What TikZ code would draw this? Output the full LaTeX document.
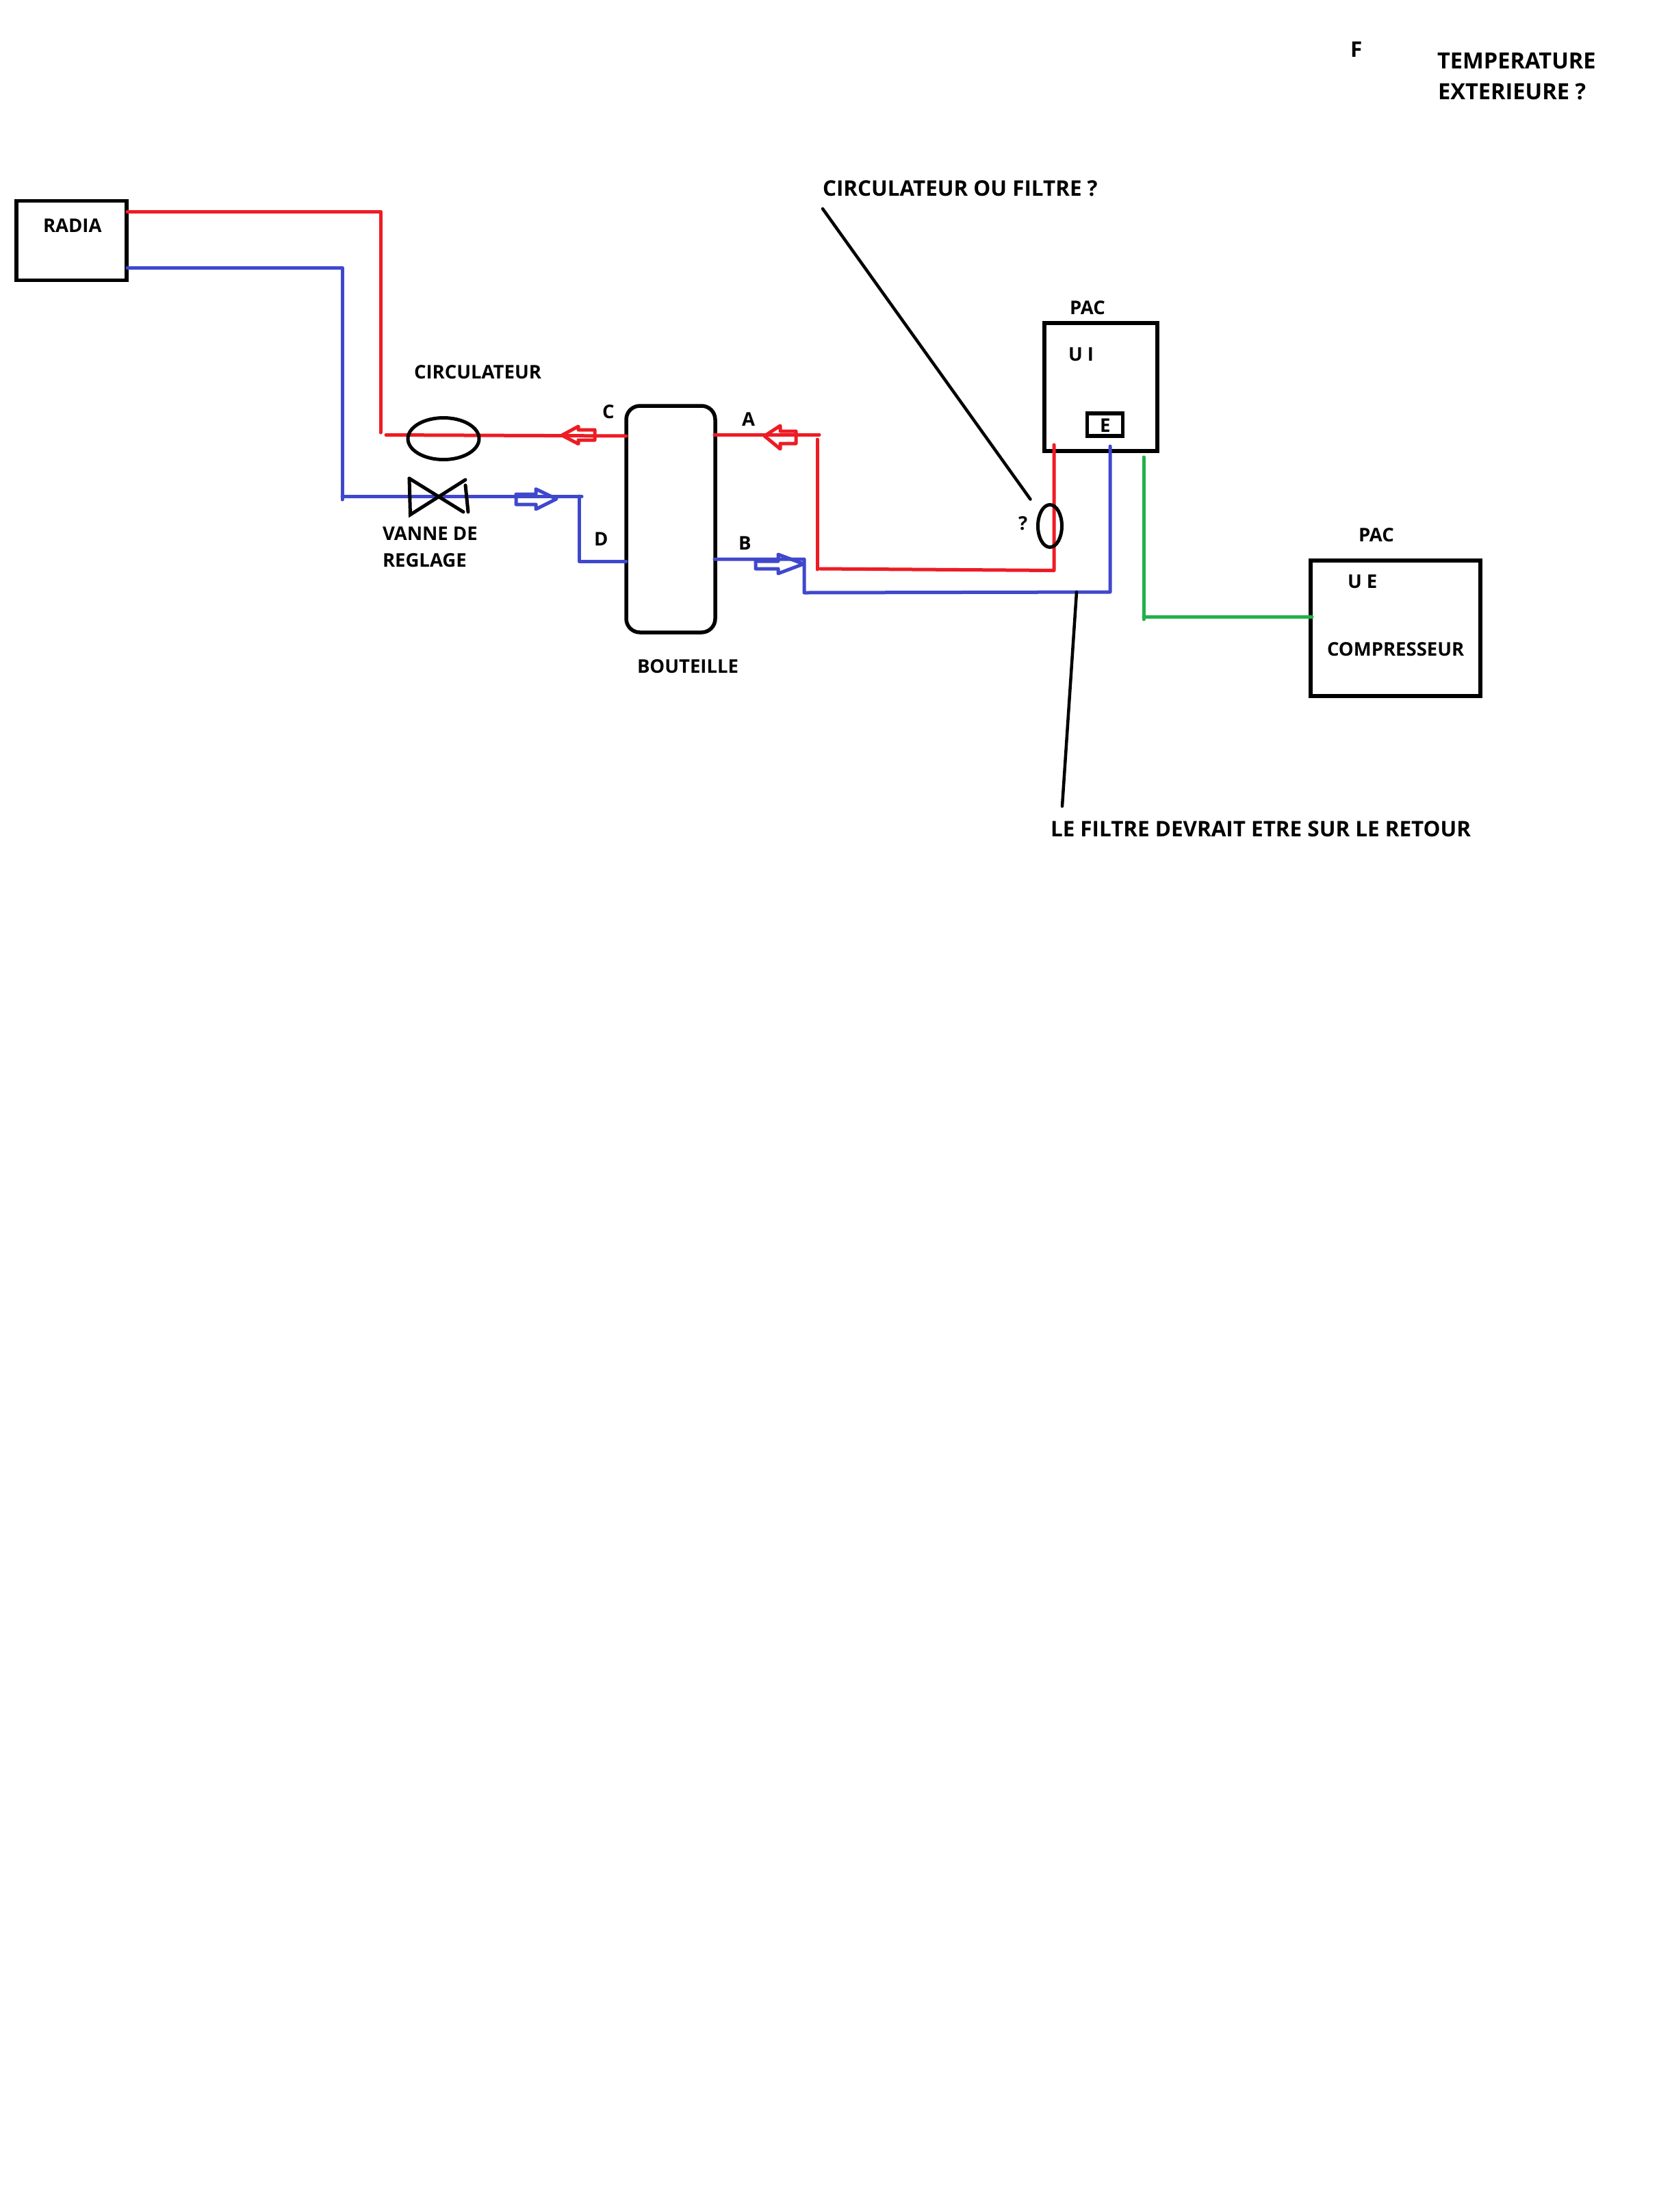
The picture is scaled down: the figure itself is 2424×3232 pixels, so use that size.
\documentclass[tikz,border=0pt]{standalone}
\usepackage{fontspec}
\setmainfont{Open Sans}
\definecolor{pipered}{HTML}{ED1C24}
\definecolor{pipeblue}{HTML}{3F48CC}
\definecolor{pipegreen}{HTML}{22B14C}
\tikzset{
  lbl/.style={anchor=base west,inner sep=0pt,outer sep=0pt,font=\fontsize{27.5}{27.5}\selectfont\bfseries,text=black},
  lblbig/.style={lbl,font=\fontsize{31.4}{31.4}\selectfont\bfseries},
  lbltop/.style={lbl,font=\fontsize{32.6}{32.6}\selectfont\bfseries},
  box/.style={draw=black,line width=5.5pt,rectangle,inner sep=0pt,outer sep=0pt},
  oval/.style={draw=black,line width=5pt,ellipse,inner sep=0pt,outer sep=0pt},
  redp/.style={draw=pipered,line width=5pt,line cap=round,line join=round},
  bluep/.style={draw=pipeblue,line width=5pt,line cap=round,line join=round},
  greenp/.style={draw=pipegreen,line width=5pt,line cap=round,line join=round},
  lead/.style={draw=black,line width=4.5pt,line cap=round},
  valve/.style={draw=black,line width=5pt,line cap=round},
}
\usetikzlibrary{shapes.geometric}
\begin{document}
\begin{tikzpicture}[x=1pt,y=-1pt]
\useasboundingbox[fill=white] (0,0) rectangle (2424,3232);
% boxes
\node[box,minimum width=161pt,minimum height=116pt] (radia) at (104.5,351.5) {};
\node[box,draw=black,rounded corners=20pt,minimum width=130pt,minimum height=331pt] (bottle) at (980,758.5) {};
\node[box,minimum width=165pt,minimum height=187pt] (ui) at (1608.5,565.5) {};
\node[box,minimum width=52pt,minimum height=33pt] (ebox) at (1614.5,620.5) {};
\node[box,minimum width=248pt,minimum height=198pt] (ue) at (2039,918) {};
% junction points
\coordinate (r1) at (186,309); \coordinate (r2) at (556,309); \coordinate (r3) at (556,632);
\coordinate (r4) at (564,635.5); \coordinate (r5) at (915,637);
\coordinate (r6) at (1044,635); \coordinate (r7) at (1197,635);
\coordinate (r8) at (1194,642); \coordinate (r9) at (1194,832);
\coordinate (r10) at (1198,831); \coordinate (r11) at (1540,833.5); \coordinate (r12) at (1540,650);
\coordinate (b1) at (186,391); \coordinate (b2) at (500,391); \coordinate (b3) at (500,730);
\coordinate (b4) at (500,725); \coordinate (b5) at (850,725); \coordinate (b6) at (846,725);
\coordinate (b7) at (846,820); \coordinate (b8) at (915,820);
\coordinate (b9) at (1044,817); \coordinate (b10) at (1175,817); \coordinate (b11) at (1175,866);
\coordinate (b12) at (1622,865); \coordinate (b13) at (1622,652);
\coordinate (g1) at (1671,668); \coordinate (g2) at (1671,905); \coordinate (g3) at (1671,901); \coordinate (g4) at (1917,901);
% pipes
\draw[redp] (r1) -- (r2) -- (r3);
\draw[redp] (r4) -- (r5);
\draw[redp] (r6) -- (r7);
\draw[redp] (r8) -- (r9);
\draw[redp] (r10) -- (r11) -- (r12);
\draw[bluep] (b1) -- (b2) -- (b3);
\draw[bluep] (b4) -- (b5);
\draw[bluep] (b6) -- (b7) -- (b8);
\draw[bluep] (b9) -- (b10) -- (b11) -- (b12) -- (b13);
\draw[greenp] (g1) -- (g2);
\draw[greenp] (g3) -- (g4);
% flow arrows
\draw[redp] (821,636) -- (845,623) -- (845,628) -- (869,628) -- (869,643) -- (845,643) -- (845,648.5) -- cycle;
\draw[redp] (1117,637) -- (1140,622) -- (1140,630) -- (1163,630) -- (1163,648) -- (1140,648) -- (1140,656) -- cycle;
\draw[bluep] (813,729) -- (783,714.5) -- (783,722) -- (754,722) -- (754,737) -- (783,737) -- (783,744) -- cycle;
\draw[bluep] (1174,824) -- (1137,810) -- (1137,820) -- (1104,820) -- (1104,831) -- (1137,831) -- (1137,838) -- cycle;
% circulator, filter, valve
\node[oval,minimum width=104pt,minimum height=61pt] (circ) at (648,641) {};
\node[oval,minimum width=35pt,minimum height=62pt] (filt) at (1534,768.5) {};
\coordinate (v1) at (598,699); \coordinate (v2) at (677,748); \coordinate (v3) at (680,701); \coordinate (v4) at (599.5,752);
\coordinate (v5) at (680,709); \coordinate (v6) at (684,748);
\draw[valve] (v1) -- (v2);
\draw[valve] (v3) -- (v4) -- (v1);
\draw[valve] (v5) -- (v6);
% leaders
\coordinate (l1) at (1202,305); \coordinate (l2) at (1505.5,729.5);
\coordinate (l3) at (1573,865); \coordinate (l4) at (1552,1178);
\draw[lead] (l1) -- (l2);
\draw[lead] (l3) -- (l4);
% labels
\node[lbl] (tradia) at (63,339) {RADIA};
\node[lbl] (tcirc) at (605,553) {CIRCULATEUR};
\node[lbl] (tc) at (880,611) {C};
\node[lbl] (tv1) at (559,789) {VANNE DE};
\node[lbl] (tv2) at (559,828) {REGLAGE};
\node[lbl] (td) at (868,797) {D};
\node[lbl] (tbout) at (931,983) {BOUTEILLE};
\node[lbl] (ta) at (1084,622) {A};
\node[lbl] (tb) at (1079,803) {B};
\node[lbl] (tpac1) at (1563,459) {PAC};
\node[lbl] (tui) at (1561,527) {U I};
\node[lbl] (te) at (1607,631) {E};
\node[lbl] (tq) at (1488,774) {?};
\node[lbl] (tpac2) at (1985,791) {PAC};
\node[lbl] (tue) at (1969,859) {U E};
\node[lbl] (tcomp) at (1939,958) {COMPRESSEUR};
\node[lblbig] (tfilt) at (1535,1222) {LE FILTRE DEVRAIT ETRE SUR LE RETOUR};
\node[lblbig] (tf) at (1973,83) {F};
\node[lbltop] (ttemp) at (2100,100) {TEMPERATURE};
\node[lbltop] (text) at (2101,145) {EXTERIEURE ?};
\node[lblbig] (tcf) at (1202,286) {CIRCULATEUR OU FILTRE ?};
\end{tikzpicture}
\end{document}
